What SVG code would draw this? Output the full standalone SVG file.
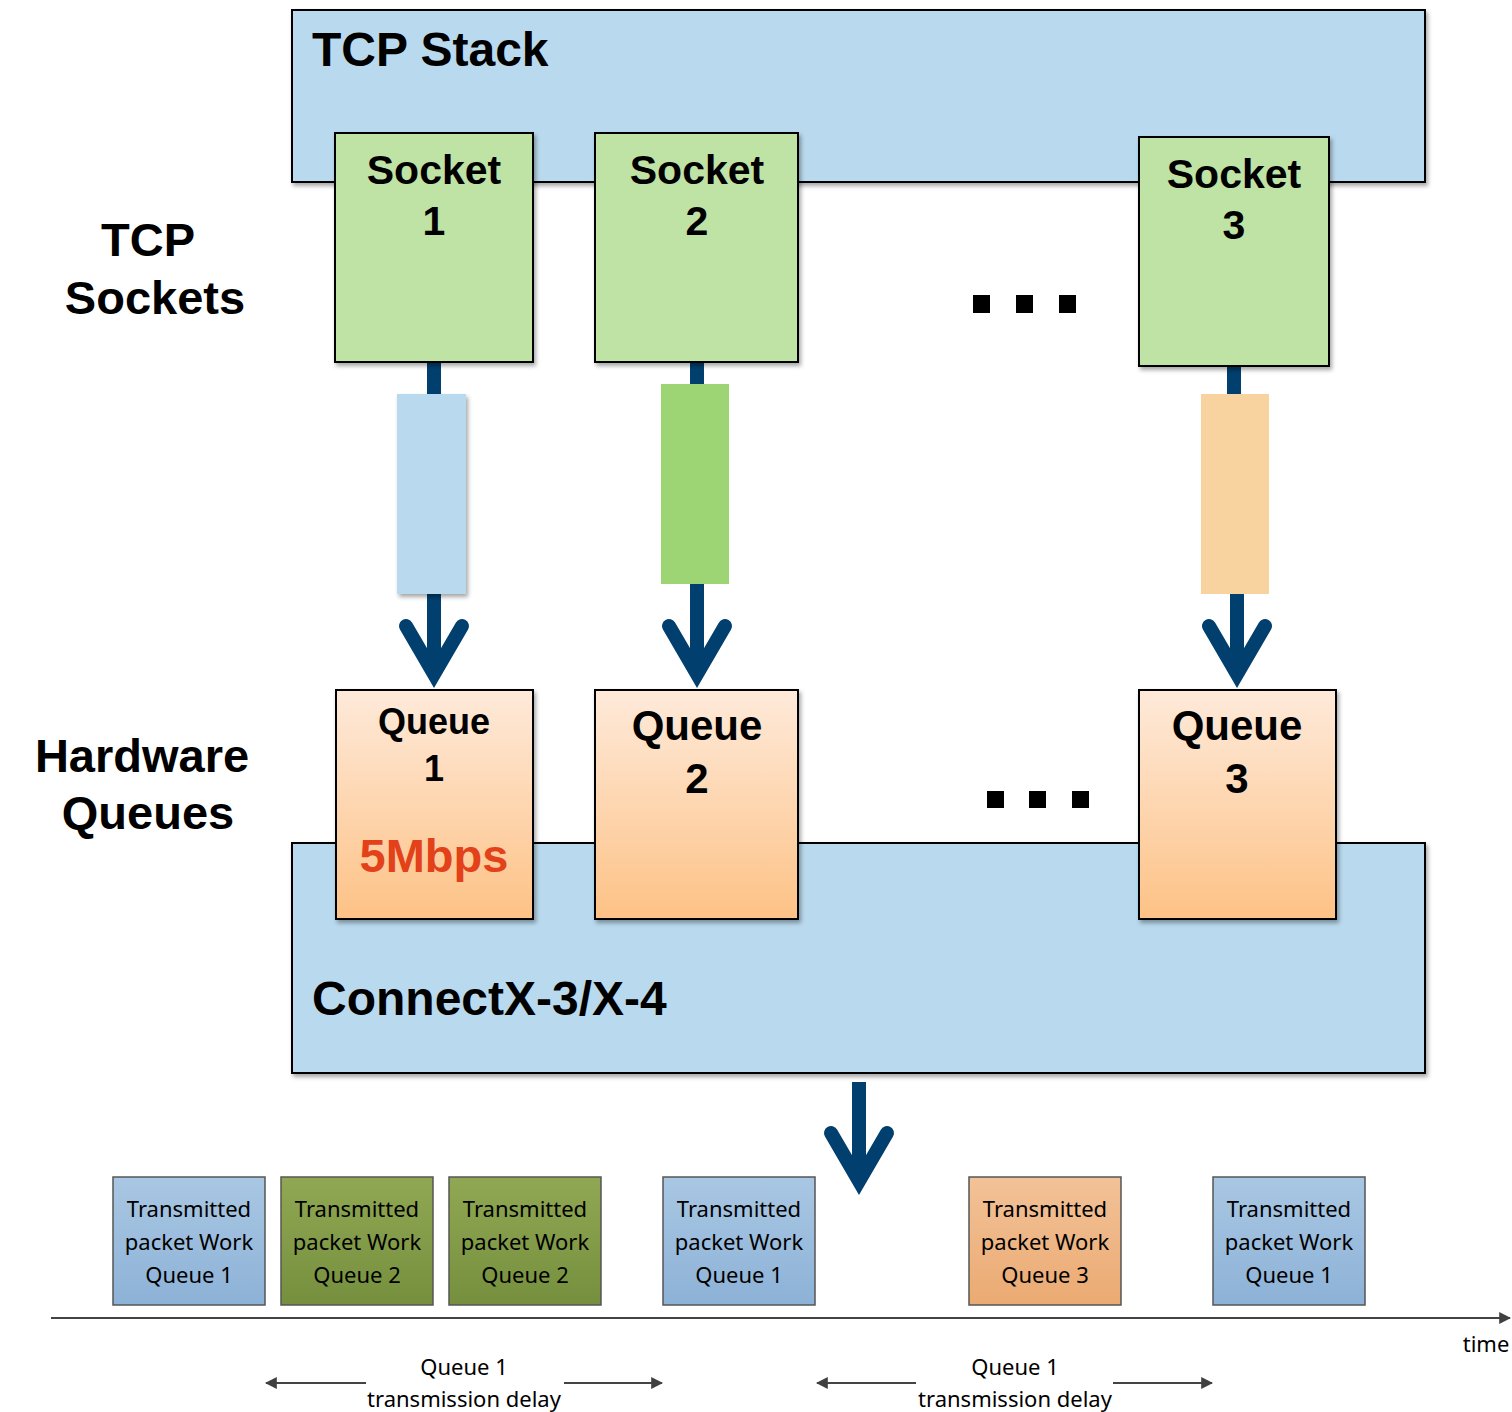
<svg xmlns="http://www.w3.org/2000/svg" width="1512" height="1412" viewBox="0 0 1512 1412">
<defs>
<filter id="sh" x="-10%" y="-10%" width="125%" height="125%"><feDropShadow dx="2" dy="3" stdDeviation="2" flood-color="#000" flood-opacity="0.35"/></filter>
<linearGradient id="qg" x1="0" y1="0" x2="0" y2="1"><stop offset="0" stop-color="#feeada"/><stop offset="1" stop-color="#fdc286"/></linearGradient>
<linearGradient id="bg" x1="0" y1="0" x2="0" y2="1"><stop offset="0" stop-color="#a9c7e3"/><stop offset="1" stop-color="#8db2d7"/></linearGradient>
<linearGradient id="gg" x1="0" y1="0" x2="0" y2="1"><stop offset="0" stop-color="#90a853"/><stop offset="1" stop-color="#768f3e"/></linearGradient>
<linearGradient id="og" x1="0" y1="0" x2="0" y2="1"><stop offset="0" stop-color="#f2c298"/><stop offset="1" stop-color="#ebaa72"/></linearGradient>
<marker id="ah" viewBox="0 0 10 10" refX="9" refY="5" markerWidth="6" markerHeight="6" orient="auto-start-reverse"><path d="M0,0 L10,5 L0,10 z" fill="#404040"/></marker>
</defs>
<style>
.b{font-family:"Liberation Sans",Arial,sans-serif;font-weight:bold;fill:#000}
.c{font-family:"Noto Sans","Open Sans",sans-serif;font-size:22px;fill:#000;text-anchor:middle}
.box{stroke:#000;stroke-width:2}
.sock{fill:#bfe2a5}
.pk{stroke:#555;stroke-width:1.5}
.shaft{stroke:#003f6e;stroke-width:14;fill:none}
.chev{stroke:#003f6e;stroke-width:14;fill:none;stroke-linecap:round;stroke-linejoin:miter;stroke-miterlimit:10}
.tl{stroke:#444;stroke-width:2;fill:none}
.dot{fill:#000}
</style>
<g id="tcp-stack"><rect class="box" x="292" y="10" width="1133" height="172" fill="#b9d9ee" filter="url(#sh)"/><text class="b" x="312" y="66" font-size="48">TCP Stack</text></g>
<g id="connectx"><rect class="box" x="292" y="843" width="1133" height="230" fill="#b9d9ee" filter="url(#sh)"/><text class="b" x="312" y="1015" font-size="48">ConnectX-3/X-4</text></g>
<g id="label-tcp-sockets"><text class="b" font-size="47" text-anchor="middle"><tspan x="148" y="256">TCP</tspan><tspan x="155" y="314">Sockets</tspan></text></g>
<g id="label-hw-queues"><text class="b" font-size="47" text-anchor="middle"><tspan x="142" y="772">Hardware</tspan><tspan x="148" y="829">Queues</tspan></text></g>
<g id="connectors">
<line class="shaft" x1="434" y1="362" x2="434" y2="676"/>
<polyline class="chev" points="406,626 434,674 462,626"/>
<line class="shaft" x1="697" y1="362" x2="697" y2="676"/>
<polyline class="chev" points="669,626 697,674 725,626"/>
<line class="shaft" x1="1234" y1="366" x2="1234" y2="394"/>
<line class="shaft" x1="1237" y1="590" x2="1237" y2="676"/>
<polyline class="chev" points="1209,626 1237,674 1265,626"/>
<line class="shaft" x1="859" y1="1082" x2="859" y2="1180"/>
<polyline class="chev" points="831,1133 859,1181 887,1133"/>
</g>
<g id="packet-blue"><rect x="397" y="394" width="69" height="200" fill="#b9d9ee" filter="url(#sh)"/></g>
<g id="packet-green"><rect x="661" y="384" width="68" height="200" fill="#9dd574"/></g>
<g id="packet-orange"><rect x="1201" y="394" width="68" height="200" fill="#f8d3a0"/></g>
<g id="socket1"><rect class="box sock" x="335" y="133" width="198" height="229" filter="url(#sh)"/><text class="b" font-size="41" text-anchor="middle"><tspan x="434" y="184">Socket</tspan><tspan x="434" y="235">1</tspan></text></g>
<g id="socket2"><rect class="box sock" x="595" y="133" width="203" height="229" filter="url(#sh)"/><text class="b" font-size="41" text-anchor="middle"><tspan x="697" y="184">Socket</tspan><tspan x="697" y="235">2</tspan></text></g>
<g id="socket3"><rect class="box sock" x="1139" y="137" width="190" height="229" filter="url(#sh)"/><text class="b" font-size="41" text-anchor="middle"><tspan x="1234" y="188">Socket</tspan><tspan x="1234" y="239">3</tspan></text></g>
<g id="dots-top"><rect class="dot" x="973" y="295" width="17" height="18"/><rect class="dot" x="1016" y="295" width="17" height="18"/><rect class="dot" x="1059" y="295" width="17" height="18"/></g>
<g id="queue1"><rect class="box" x="336" y="690" width="197" height="229" fill="url(#qg)" filter="url(#sh)"/><text class="b" font-size="36" text-anchor="middle"><tspan x="434" y="734">Queue</tspan><tspan x="434" y="781">1</tspan></text><text class="b" x="434" y="872" font-size="47" text-anchor="middle" style="fill:#e2411a">5Mbps</text></g>
<g id="queue2"><rect class="box" x="595" y="690" width="203" height="229" fill="url(#qg)" filter="url(#sh)"/><text class="b" font-size="42" text-anchor="middle"><tspan x="697" y="740">Queue</tspan><tspan x="697" y="793">2</tspan></text></g>
<g id="queue3"><rect class="box" x="1139" y="690" width="197" height="229" fill="url(#qg)" filter="url(#sh)"/><text class="b" font-size="42" text-anchor="middle"><tspan x="1237" y="740">Queue</tspan><tspan x="1237" y="793">3</tspan></text></g>
<g id="dots-bottom"><rect class="dot" x="987" y="791" width="17" height="17"/><rect class="dot" x="1029" y="791" width="17" height="17"/><rect class="dot" x="1072" y="791" width="17" height="17"/></g>
<g id="wq1"><rect class="pk" x="113" y="1177" width="152" height="128" fill="url(#bg)"/><text class="c"><tspan x="189" y="1217">Transmitted</tspan><tspan x="189" y="1250">packet Work</tspan><tspan x="189" y="1283">Queue 1</tspan></text></g>
<g id="wq2"><rect class="pk" x="281" y="1177" width="152" height="128" fill="url(#gg)"/><text class="c"><tspan x="357" y="1217">Transmitted</tspan><tspan x="357" y="1250">packet Work</tspan><tspan x="357" y="1283">Queue 2</tspan></text></g>
<g id="wq3"><rect class="pk" x="449" y="1177" width="152" height="128" fill="url(#gg)"/><text class="c"><tspan x="525" y="1217">Transmitted</tspan><tspan x="525" y="1250">packet Work</tspan><tspan x="525" y="1283">Queue 2</tspan></text></g>
<g id="wq4"><rect class="pk" x="663" y="1177" width="152" height="128" fill="url(#bg)"/><text class="c"><tspan x="739" y="1217">Transmitted</tspan><tspan x="739" y="1250">packet Work</tspan><tspan x="739" y="1283">Queue 1</tspan></text></g>
<g id="wq5"><rect class="pk" x="969" y="1177" width="152" height="128" fill="url(#og)"/><text class="c"><tspan x="1045" y="1217">Transmitted</tspan><tspan x="1045" y="1250">packet Work</tspan><tspan x="1045" y="1283">Queue 3</tspan></text></g>
<g id="wq6"><rect class="pk" x="1213" y="1177" width="152" height="128" fill="url(#bg)"/><text class="c"><tspan x="1289" y="1217">Transmitted</tspan><tspan x="1289" y="1250">packet Work</tspan><tspan x="1289" y="1283">Queue 1</tspan></text></g>
<g id="timeline"><line class="tl" x1="51" y1="1318" x2="1510" y2="1318" marker-end="url(#ah)"/><text class="c" x="1486" y="1352">time</text></g>
<g id="delay1"><line class="tl" x1="366" y1="1383" x2="266" y2="1383" marker-end="url(#ah)"/><line class="tl" x1="564" y1="1383" x2="662" y2="1383" marker-end="url(#ah)"/><text class="c"><tspan x="464" y="1375">Queue 1</tspan><tspan x="464" y="1407">transmission delay</tspan></text></g>
<g id="delay2"><line class="tl" x1="916" y1="1383" x2="817" y2="1383" marker-end="url(#ah)"/><line class="tl" x1="1113" y1="1383" x2="1212" y2="1383" marker-end="url(#ah)"/><text class="c"><tspan x="1015" y="1375">Queue 1</tspan><tspan x="1015" y="1407">transmission delay</tspan></text></g>
</svg>
